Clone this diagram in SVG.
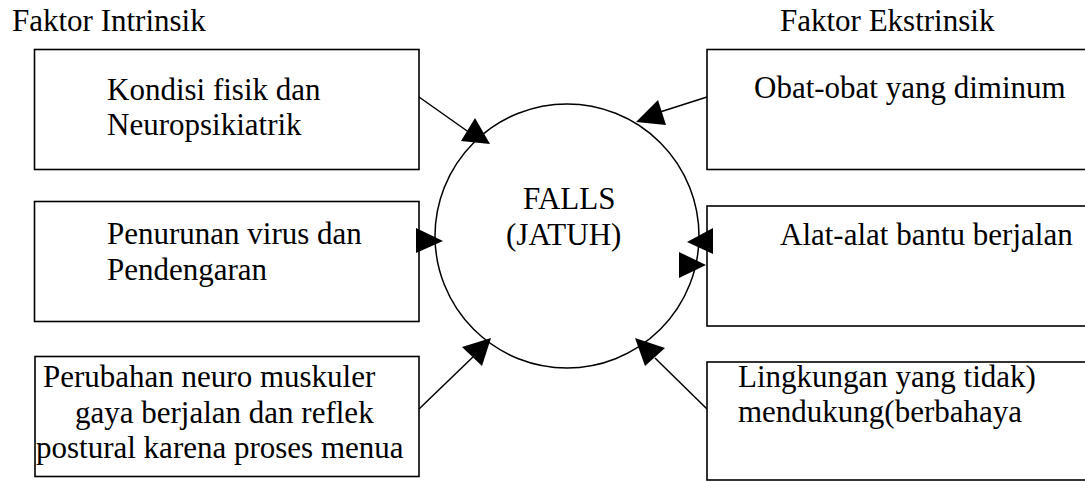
<svg xmlns="http://www.w3.org/2000/svg" width="1085" height="481" viewBox="0 0 1085 481">
<style>
.t{font-family:"Liberation Serif","Times New Roman",serif;font-size:31px;fill:#000}
.box{fill:#fff;stroke:#000;stroke-width:1.6}
.ln{stroke:#000;stroke-width:1.5;fill:none}
.ah{fill:#000;stroke:none}
</style>
<rect width="1085" height="481" fill="#fff"/>
<text class="t" x="12" y="31">Faktor Intrinsik</text>
<text class="t" x="780" y="31">Faktor Ekstrinsik</text>
<g id="k1"><rect class="box" x="34.5" y="49.5" width="384.5" height="120"/>
<text class="t" x="107" y="100">Kondisi fisik dan</text><text class="t" x="107" y="135">Neuropsikiatrik</text></g>
<g id="k2"><rect class="box" x="34.5" y="201.5" width="384.5" height="120"/>
<text class="t" x="107" y="244">Penurunan virus dan</text><text class="t" x="107" y="280">Pendengaran</text></g>
<g id="k3"><rect class="box" x="35" y="356.5" width="384" height="120"/>
<text class="t" x="43" y="387">Perubahan neuro muskuler</text><text class="t" x="75" y="423">gaya berjalan dan reflek</text><text class="t" x="36" y="458">postural karena proses menua</text></g>
<g id="e1"><rect class="box" x="707" y="49.5" width="390" height="120"/>
<text class="t" x="754" y="98">Obat-obat yang diminum</text></g>
<g id="e2"><rect class="box" x="707" y="206" width="390" height="120"/>
<text class="t" x="780" y="245">Alat-alat bantu berjalan</text></g>
<g id="e3"><rect class="box" x="707" y="362" width="390" height="118"/>
<text class="t" x="738" y="387">Lingkungan yang tidak)</text><text class="t" x="738" y="422">mendukung(berbahaya</text></g>
<g id="falls"><circle cx="567" cy="236" r="132" fill="#fff" stroke="#000" stroke-width="1.5"/>
<text class="t" x="523" y="209">FALLS</text><text class="t" x="506" y="245">(JATUH)</text></g>
<g id="connectors">
<line class="ln" x1="419" y1="97" x2="470" y2="133"/>
<polygon class="ah" points="475,118 461,141 490,144"/>
<line class="ln" x1="707" y1="97" x2="660" y2="112"/>
<polygon class="ah" points="636,122 658,100 666,125"/>
<polygon class="ah" points="416,228 416,253 443,241"/>
<polygon class="ah" points="687,242 713,228 713,254"/>
<polygon class="ah" points="679,252 679,278 706,265"/>
<line class="ln" x1="419" y1="409" x2="475" y2="355"/>
<polygon class="ah" points="491,338 462,347 482,366"/>
<line class="ln" x1="707" y1="409" x2="655" y2="358"/>
<polygon class="ah" points="635,338 665,348 645,366"/>
</g>
</svg>
